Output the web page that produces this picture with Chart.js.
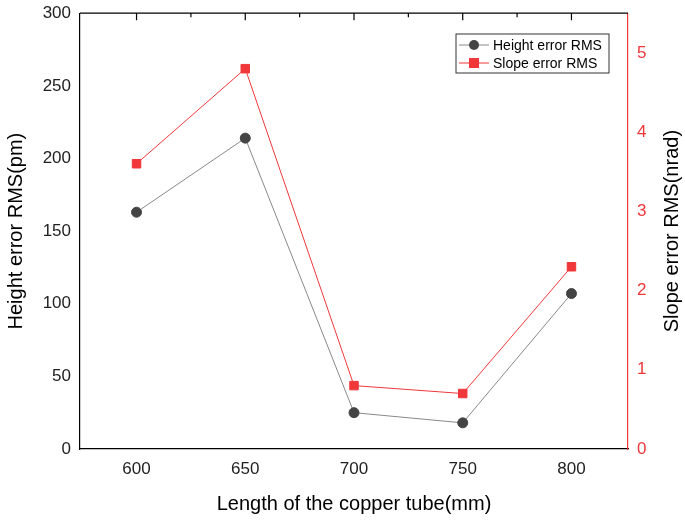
<!DOCTYPE html>
<html>
<head>
<meta charset="utf-8">
<script src="https://cdn.jsdelivr.net/npm/chart.js@4/dist/chart.umd.min.js"></script>
<style>
  html, body { margin: 0; padding: 0; background: #fff; }
  #wrap { width: 685px; height: 520px; }
</style>
</head>
<body>
<div id="wrap"><canvas id="c"></canvas></div>
<script>
'use strict'
const lengths = [600, 650, 700, 750, 800]
const heightRms = [163, 214, 25, 18, 107]
const slopeRms = [3.6, 4.8, 0.8, 0.7, 2.3]
const xTicks = [600, 650, 700, 750, 800]

const FONT = 'Liberation Sans, Arial, sans-serif'
const RED = '#f0373a'

// top frame line with inward ticks, right axis title, and the boxed legend
const framePlugin = {
  id: 'frame',
  afterDraw (chart) {
    const ctx = chart.ctx
    const a = chart.chartArea
    const x = chart.scales.x
    ctx.save()
    ctx.strokeStyle = '#000'
    ctx.lineWidth = 1.2
    ctx.beginPath()
    ctx.moveTo(a.left, a.top)
    ctx.lineTo(a.right, a.top)
    for (let v = 600; v <= 800; v += 25) {
      const px = x.getPixelForValue(v)
      ctx.moveTo(px, a.top)
      ctx.lineTo(px, a.top + (v % 50 === 0 ? 7 : 4))
    }
    ctx.stroke()

    // right axis title, reading bottom to top
    ctx.save()
    ctx.translate(672, (a.top + a.bottom) / 2)
    ctx.rotate(-Math.PI / 2)
    ctx.fillStyle = '#000'
    ctx.font = '20px ' + FONT
    ctx.textAlign = 'center'
    ctx.textBaseline = 'middle'
    ctx.fillText('Slope error RMS(nrad)', 0, 0)
    ctx.restore()

    // legend
    const lx = 456, ly = 34, lw = 153, lh = 39
    ctx.fillStyle = '#fff'
    ctx.fillRect(lx, ly, lw, lh)
    ctx.strokeStyle = '#333'
    ctx.lineWidth = 1
    ctx.strokeRect(lx, ly, lw, lh)
    chart.data.datasets.forEach((ds, i) => {
      const cy = ly + 11 + i * 18
      ctx.strokeStyle = ds.borderColor
      ctx.beginPath()
      ctx.moveTo(lx + 3, cy)
      ctx.lineTo(lx + 33, cy)
      ctx.stroke()
      ctx.fillStyle = ds.pointBackgroundColor
      if (ds.pointStyle === 'rect') {
        ctx.fillRect(lx + 13, cy - 5, 10, 10)
      } else {
        ctx.beginPath()
        ctx.arc(lx + 18, cy, 5, 0, Math.PI * 2)
        ctx.fill()
      }
      ctx.fillStyle = '#000'
      ctx.font = '14px ' + FONT
      ctx.textBaseline = 'middle'
      ctx.fillText(ds.label, lx + 37, cy + 1)
    })
    ctx.restore()
  }
}

const chart = new Chart(document.getElementById('c'), {
  type: 'line',
  data: {
    datasets: [
      {
        label: 'Height error RMS',
        data: lengths.map((l, i) => ({ x: l, y: heightRms[i] })),
        yAxisID: 'y',
        borderColor: '#888',
        borderWidth: 1,
        pointBackgroundColor: '#444',
        pointBorderColor: '#444',
        pointStyle: 'circle',
        pointRadius: 5
      },
      {
        label: 'Slope error RMS',
        data: lengths.map((l, i) => ({ x: l, y: slopeRms[i] })),
        yAxisID: 'y1',
        borderColor: RED,
        borderWidth: 1,
        pointBackgroundColor: RED,
        pointBorderColor: RED,
        pointStyle: 'rect',
        pointRadius: 6
      }
    ]
  },
  plugins: [framePlugin],
  options: {
    responsive: true,
    maintainAspectRatio: false,
    animation: false,
    layout: { padding: { top: 0 } },
    plugins: { legend: { display: false }, tooltip: { enabled: false } },
    scales: {
      x: {
        type: 'linear',
        min: 574,
        max: 826,
        afterBuildTicks: s => { s.ticks = xTicks.map(v => ({ value: v })) },
        afterFit: s => { s.height = 71 },
        grid: { display: false, drawTicks: true, tickLength: 6, tickColor: '#000' },
        border: { color: '#000', width: 1.2 },
        ticks: { color: '#222', font: { family: FONT, size: 17 }, padding: 4 },
        title: { display: true, text: 'Length of the copper tube(mm)', color: '#000', font: { family: FONT, size: 20 }, padding: { top: 6 } }
      },
      y: {
        position: 'left',
        min: 0,
        max: 300,
        afterFit: s => { s.width = 80 },
        ticks: { stepSize: 50, color: '#222', font: { family: FONT, size: 17 } },
        grid: { display: false, drawTicks: true, tickLength: 6, tickColor: '#000' },
        border: { color: '#000', width: 1.2 },
        title: { display: true, text: 'Height error RMS(pm)', color: '#000', font: { family: FONT, size: 20 } }
      },
      y1: {
        position: 'right',
        min: 0,
        max: 5.5,
        afterBuildTicks: s => { s.ticks = [0, 1, 2, 3, 4, 5].map(v => ({ value: v })) },
        afterFit: s => { s.width = 57 },
        ticks: { color: RED, font: { family: FONT, size: 17 } },
        grid: { display: false, drawTicks: true, tickLength: 6, tickColor: RED },
        border: { color: RED, width: 1.2 },
        title: { display: false }
      }
    }
  }
})
</script>
</body>
</html>
